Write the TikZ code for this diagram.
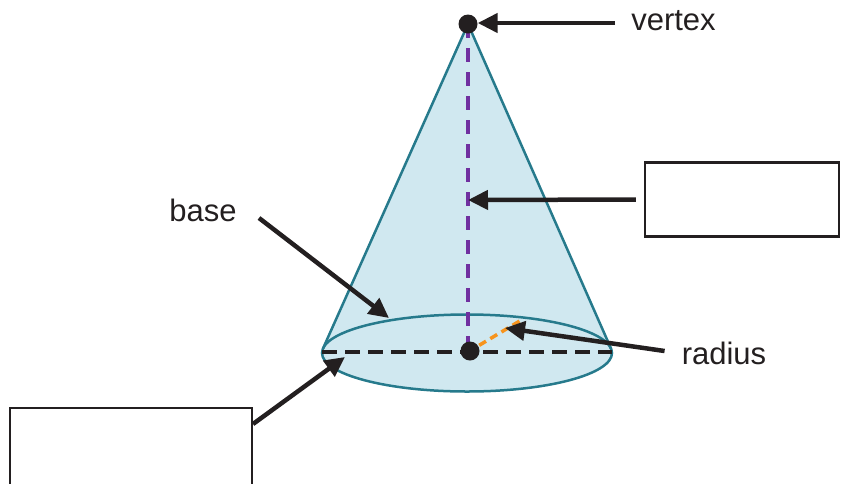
\documentclass[tikz,border=0pt]{standalone}
\usepackage{fontspec}
\setmainfont{Liberation Sans}
\usetikzlibrary{arrows.meta}
\definecolor{conefill}{RGB}{208,232,240}
\definecolor{coneedge}{RGB}{38,122,140}
\definecolor{ink}{RGB}{35,31,32}
\definecolor{heightcol}{RGB}{112,48,160}
\definecolor{radiuscol}{RGB}{247,148,29}
\tikzset{
  label text/.style={font=\fontsize{31}{36}\selectfont, text=ink, inner sep=0pt},
  pointer/.style={draw=ink, line width=4.5pt, -{Triangle[length=20pt,width=19pt]}},
  blank box/.style={draw=ink, line width=2.5pt, fill=white, minimum width=194pt, minimum height=74pt, inner sep=0pt},
  dot/.style={circle, fill=ink, minimum size=19pt, inner sep=0pt},
}
\begin{document}
\begin{tikzpicture}[x=1pt,y=-1pt]
\useasboundingbox (0,0) rectangle (844,483);

% cone body
\coordinate (apex) at (468,24);
\coordinate (center) at (468,352);
\coordinate (lt) at (323,348.5);
\coordinate (rt) at (611,348.5);
\fill[conefill] (apex) -- (lt) -- (rt) -- cycle;
\fill[conefill] (467,353) ellipse [x radius=145pt, y radius=38.5pt];
\draw[coneedge, line width=2.5pt, line join=round] (lt) -- (apex) -- (rt);
\draw[coneedge, line width=2.5pt] (467,353) ellipse [x radius=145pt, y radius=38.5pt];

% height, diameter and radius
\draw[heightcol, line width=3.5pt, dash pattern=on 14pt off 10pt] (apex) -- (center);
\coordinate (dl) at (322,352);
\coordinate (dr) at (612,352);
\draw[ink, line width=4pt, dash pattern=on 15pt off 8pt] (dl) -- (dr);
\coordinate (redge) at (523,319);
\draw[radiuscol, line width=3.5pt, dash pattern=on 8pt off 5pt] (center) -- (redge);

% points
\node[dot] (vdot) at (apex) {};
\node[dot] (cdot) at (470,351) {};

% labels and boxes
\node[label text] (vertex) at (673.5,21) {vertex};
\node[label text] (base) at (203,210) {base};
\node[label text] (radius) at (724,353) {radius};
\node[blank box] (rbox) at (742,199.5) {};
\node[blank box, minimum width=242pt, minimum height=90pt] (lbox) at (131,453) {};

% pointers
\coordinate (vertexStart) at (615,23);
\coordinate (baseTip) at (389,318);
\coordinate (radTip) at (505,328);
\coordinate (heightTip) at (468,200);
\coordinate (diamTip) at (345,357);
\coordinate (baseStart) at (259,218);
\coordinate (lboxStart) at (253,424);
\draw[pointer] (vertexStart) -- (vdot.east |- vertexStart);
\draw[pointer, shorten <=8pt] (rbox.west) -- (heightTip);
\draw[pointer] (baseStart) -- (baseTip);
\draw[pointer] (radius.west) ++(-17,-2) -- (radTip);
\draw[pointer] (lboxStart) -- (diamTip);
\end{tikzpicture}
\end{document}
